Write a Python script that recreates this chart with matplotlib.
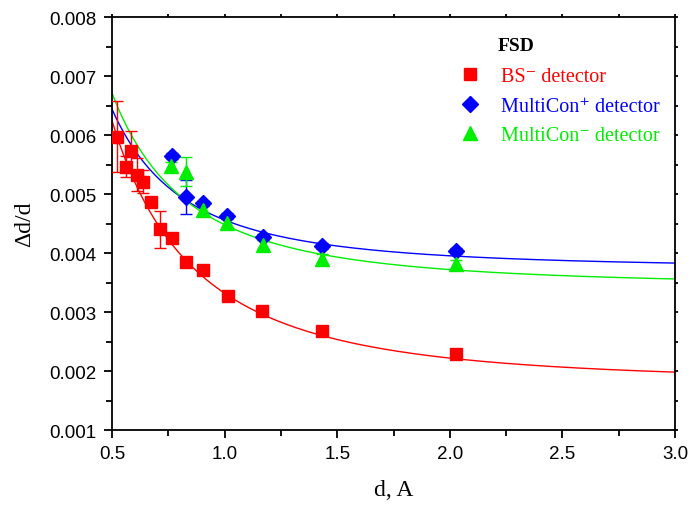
import numpy as np
import matplotlib
matplotlib.use("Agg")
import matplotlib.pyplot as plt
from matplotlib.lines import Line2D
from matplotlib.ticker import MultipleLocator, FormatStrFormatter

# BS- detector
bs_d = [0.521, 0.562, 0.583, 0.611, 0.639, 0.675, 0.714, 0.765, 0.827, 0.905, 1.014, 1.167, 1.431, 2.026]
bs_r = [0.00597, 0.00546, 0.00573, 0.00533, 0.00521, 0.00486, 0.00440, 0.00425, 0.00384, 0.00371,
        0.00327, 0.00301, 0.00267, 0.00228]
bs_e = [0.00060, 0.00018, 0.00033, 0.00028, 0.00019, 0.00005, 0.00031, 0.00004, 0.00004, 0.00004,
        0.00004, 0.00004, 0.00004, 0.00004]

# MultiCon+ detector
mp_d = [0.765, 0.827, 0.905, 1.011, 1.169, 1.431, 2.026]
mp_r = [0.00565, 0.00495, 0.00484, 0.00462, 0.00427, 0.00412, 0.00403]
mp_e = [0.00005, 0.00029, 0.00005, 0.00005, 0.00005, 0.00005, 0.00005]

# MultiCon- detector
mm_d = [0.762, 0.827, 0.905, 1.011, 1.169, 1.431, 2.026]
mm_r = [0.00547, 0.00538, 0.00473, 0.00451, 0.00414, 0.00390, 0.00381]
mm_e = [0.00008, 0.00025, 0.00008, 0.00008, 0.00008, 0.00008, 0.00008]

# resolution fits  dd/d = sqrt(A + B * d^-c), parameters
fit_A = [3.23e-6, 1.39e-5, 1.175e-5]
fit_B = [7.78e-6, 6.89e-6, 8.32e-6]
fit_c = [2.2, 2.0, 2.0]

labels = ['BS⁻ detector', 'MultiCon⁺ detector', 'MultiCon⁻ detector']
colors = ['#ff0000', '#0000ff', '#00ee00']
serif = ['Liberation Serif', 'DejaVu Serif']

fig = plt.figure(figsize=(6.9, 5.06), dpi=100)
ax = fig.add_axes([0.1623, 0.1482, 0.816, 0.8162])

xs = np.linspace(0.5, 3.0, 300)
series = [(bs_d, bs_r, bs_e, 's', 8.5), (mp_d, mp_r, mp_e, 'D', 8.5), (mm_d, mm_r, mm_e, '^', 9.5)]
for i, ((d, r, e, m, ms), col) in enumerate(zip(series, colors)):
    ax.plot(xs, np.sqrt(fit_A[i] + fit_B[i] * xs ** (-fit_c[i])), color=col, lw=1.0, zorder=2)
    ax.errorbar(d, r, yerr=e, fmt=m, color=col, ms=ms, mec=col, elinewidth=1.0,
                capsize=4, capthick=1.0, zorder=3)

ax.set_xlim(0.5, 3.0)
ax.set_ylim(0.001, 0.008)
ax.xaxis.set_major_locator(MultipleLocator(0.5))
ax.xaxis.set_minor_locator(MultipleLocator(0.25))
ax.yaxis.set_major_locator(MultipleLocator(0.001))
ax.yaxis.set_minor_locator(MultipleLocator(0.0005))
ax.xaxis.set_major_formatter(FormatStrFormatter('%.1f'))
ax.yaxis.set_major_formatter(FormatStrFormatter('%.3f'))

for s in ax.spines.values():
    s.set_linewidth(1.3)
ax.tick_params(which='major', direction='out', length=6, width=1.3, labelsize=13.5, pad=5)
ax.tick_params(which='minor', direction='out', length=4, width=1.3)
# tiny ticks on the top and right frame
ax.tick_params(which='both', top=True, right=True)
for t in ax.xaxis.get_major_ticks() + ax.xaxis.get_minor_ticks():
    t.tick2line.set_markersize(2)
for t in ax.yaxis.get_major_ticks() + ax.yaxis.get_minor_ticks():
    t.tick2line.set_markersize(2)
for lab in ax.get_xticklabels() + ax.get_yticklabels():
    lab.set_fontfamily('Liberation Sans')

ax.set_xlabel('d, A', family='Liberation Serif', fontsize=17, labelpad=12)
ax.set_ylabel('Δd/d', family='Liberation Serif', fontsize=17, labelpad=10)

# legend
handles = [Line2D([], [], ls='none', marker=m, color=col, ms=ms)
           for (_, _, _, m, ms), col in zip(series, colors)]
leg = ax.legend(handles, labels, loc='upper left', bbox_to_anchor=(0.585, 0.922), frameon=False,
                handlelength=1.0, handletextpad=1.05, labelspacing=0.5,
                prop={'family': serif, 'size': 14.5})
for t, col in zip(leg.get_texts(), colors):
    t.set_color(col)
ax.text(0.685, 0.932, 'FSD', transform=ax.transAxes, family='Liberation Serif',
        fontsize=14, fontweight='bold', va='center')

fig.savefig('out.png', dpi=100)
